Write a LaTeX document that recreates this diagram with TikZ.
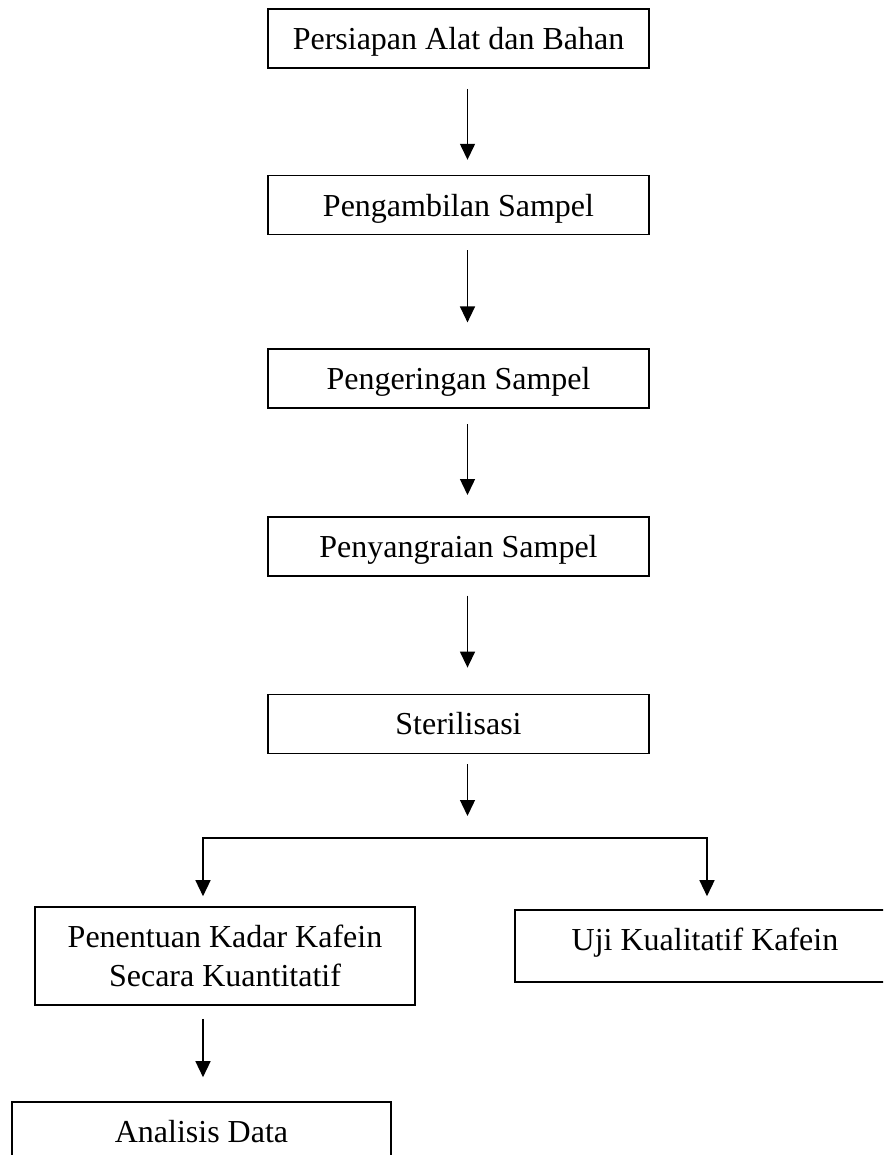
\documentclass[tikz,border=0pt]{standalone}
\usepackage{fontspec}
\setmainfont{Liberation Serif}
\usetikzlibrary{arrows.meta, positioning, calc}

\begin{document}
\begin{tikzpicture}[
  x=0.5pt, y=-0.5pt,
  font=\fontsize{16}{19.5}\selectfont,
  box/.style={draw,line width=0.8pt,inner sep=0pt,
              minimum width=190.5pt,minimum height=29.5pt,
              align=center,text height=11pt,text depth=0pt},
  arr/.style={-{Triangle[length=8pt,width=7.5pt]},line width=0.7pt}
]
  \clip (0,0) rectangle (883,1155);

  % Alur utama
  \node[box] (b1) at (458.5,38.5) {Persiapan Alat dan Bahan};
  \node[box,below=53pt of b1] (b2) {Pengambilan Sampel};
  \node[box,below=56.5pt of b2] (b3) {Pengeringan Sampel};
  \node[box,below=53.5pt of b3] (b4) {Penyangraian Sampel};
  \node[box,below=58.5pt of b4] (b5) {Sterilisasi};

  % Cabang
  \node[box,minimum width=190pt,minimum height=49pt,
        text height={},text depth={}] (b6) at (225,956)
    {Penentuan Kadar Kafein\\Secara Kuantitatif};
  \node[box,minimum width=190pt,minimum height=36pt,
        text depth=7pt] (b7) at (705,946) {Uji Kualitatif Kafein};
  \node[box,minimum width=189.5pt] (b8) at (201.5,1131.5) {Analisis Data};

  \coordinate (fl) at (203,838);
  \coordinate (fr) at (707,838);

  % Panah
  \draw[arr,shorten <=10pt,shorten >=7.5pt]
    ($(b1.south)+(4.5pt,0)$) -- ($(b2.north)+(4.5pt,0)$);
  \draw[arr,shorten <=7.5pt,shorten >=13pt]
    ($(b2.south)+(4.5pt,0)$) -- ($(b3.north)+(4.5pt,0)$);
  \draw[arr,shorten <=7.5pt,shorten >=10.5pt]
    ($(b3.south)+(4.5pt,0)$) -- ($(b4.north)+(4.5pt,0)$);
  \draw[arr,shorten <=9.5pt,shorten >=13pt]
    ($(b4.south)+(4.5pt,0)$) -- ($(b5.north)+(4.5pt,0)$);
  \draw[arr,shorten <=5pt,shorten >=11pt]
    ($(b5.south)+(4.5pt,0)$) -- ($(b5.south |- fl)+(4.5pt,0)$);
  \draw[arr,shorten >=5pt] (fr) -- (fl) -- (fl |- b6.north);
  \draw[arr,shorten >=6.5pt,line cap=rect] (fr) -- (fr |- b7.north);
  \draw[arr,shorten <=6.5pt,shorten >=12pt] (fl |- b6.south) -- (fl |- b8.north);
\end{tikzpicture}
\end{document}
